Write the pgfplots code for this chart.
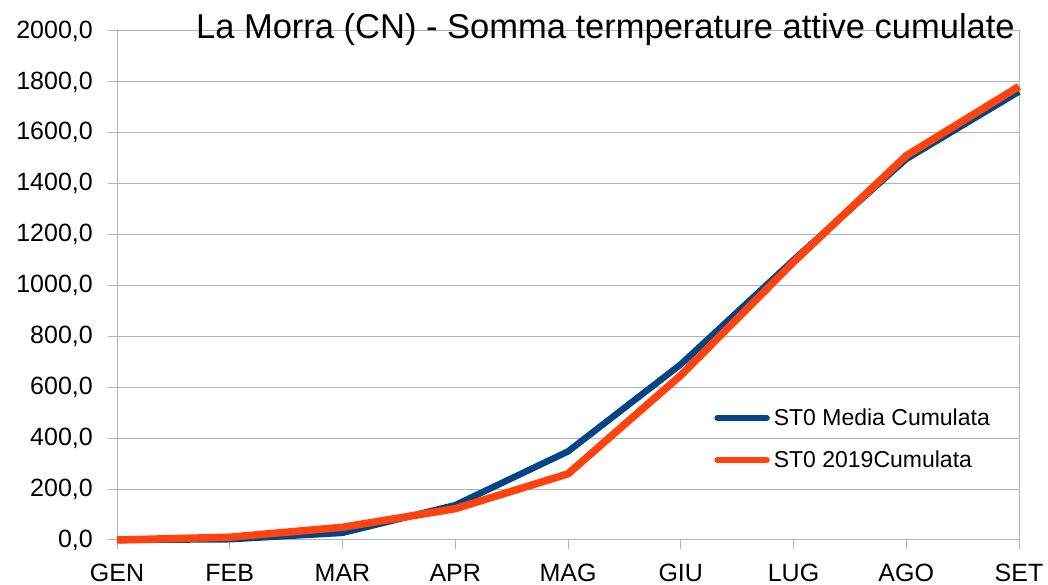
\documentclass[border=0pt]{standalone}
\usepackage{fontspec}
\setmainfont{Liberation Sans}
\usepackage{pgfplots}
\pgfplotsset{compat=1.18}
\definecolor{lblue}{HTML}{004586}
\definecolor{lorange}{HTML}{FF420E}
\definecolor{gridc}{HTML}{B3B3B3}
\begin{document}
\begin{tikzpicture}[x=1pt,y=1pt]
\begin{axis}[
  at={(117pt,45pt)}, anchor=south west,
  width=902pt, height=509pt, scale only axis,
  xmin=0, xmax=8, ymin=0, ymax=2000,
  xtick={0,...,8},
  xticklabels={GEN,FEB,MAR,APR,MAG,GIU,LUG,AGO,SET},
  ytick={0,200,...,2000},
  ymajorgrids, major grid style={gridc, line width=1pt},
  axis line style={gridc, line width=1pt},
  tick style={gridc, line width=1pt},
  tick align=outside, major tick length=9pt,
  xtick pos=bottom, ytick pos=left,
  yticklabel style={/pgf/number format/fixed, /pgf/number format/fixed zerofill, /pgf/number format/precision=1, /pgf/number format/use comma, /pgf/number format/1000 sep={}, /pgf/number format/assume math mode=true},
  ticklabel style={font=\fontsize{25}{28}\selectfont, text=black},
  xticklabel style={anchor=base, yshift=-32pt, inner sep=0pt},
  yticklabel style={anchor=east, inner sep=0pt, xshift=-15pt},
  legend style={draw=none, fill=none, at={(rel axis cs:0.662,0.26)}, anchor=north west,
    font=\fontsize{23}{26}\selectfont, row sep=22pt, inner sep=0pt,
    nodes={inner sep=1pt},
    /tikz/every odd column/.style={column sep=3pt}},
  legend cell align=left,
  legend image code/.code={\draw[#1, line width=6.5pt, line cap=round] (0pt,0pt) -- (49pt,0pt);},
  clip=false,
]
\addplot[lblue, line width=6.5pt, line join=round] coordinates {(0,0) (1,3) (2,28) (3,137) (4,348) (5,690) (6,1100) (7,1497) (8,1762)};
\addlegendentry{ST0 Media Cumulata}
\addplot[lorange, line width=7.5pt, line join=round] coordinates {(0,0) (1,11) (2,50) (3,123) (4,260) (5,647) (6,1092) (7,1510) (8,1782)};
\addlegendentry{ST0 2019Cumulata}
\node[font=\fontsize{34.5}{38}\selectfont, anchor=base east, inner sep=0pt, xshift=-4pt, yshift=-8pt] at (rel axis cs:1,1) {La Morra (CN) - Somma termperature attive cumulate};
\end{axis}
\pgfresetboundingbox
\path (0,0) rectangle (1048pt,585pt);
\end{tikzpicture}
\end{document}
